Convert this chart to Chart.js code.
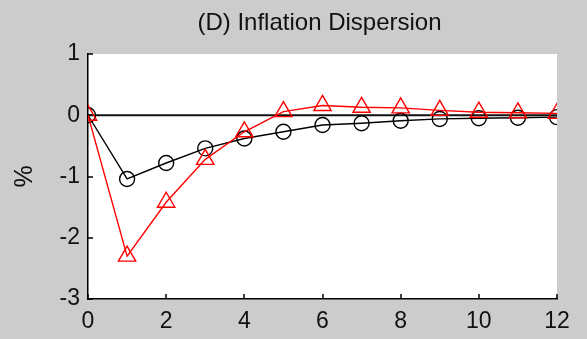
<!DOCTYPE html>
<html>
<head>
<meta charset="utf-8">
<script src="https://cdn.jsdelivr.net/npm/chart.js@4/dist/chart.umd.min.js"></script>
<style>
  html, body { margin: 0; padding: 0; background: #cccccc; }
  #wrap { width: 587px; height: 339px; }
</style>
</head>
<body>
<div id="wrap"><canvas id="c" width="587" height="339"></canvas></div>
<script>
// Impulse responses of inflation dispersion, in percent, by period
const horizon     = [0, 1, 2, 3, 4, 5, 6, 7, 8, 9, 10, 11, 12];
const blackSeries = [0, -1.04, -0.78, -0.54, -0.38, -0.27, -0.16, -0.13, -0.09, -0.06, -0.05, -0.04, -0.03];
const redSeries   = [0, -2.30, -1.42, -0.72, -0.27, 0.06, 0.16, 0.13, 0.12, 0.08, 0.05, 0.04, 0.03];
const zeroLine    = [0, 0];
const zeroLineX   = [0, 12];
const xTicks      = [0, 2, 4, 6, 8, 10, 12];
const yTicks      = [-3, -2, -1, 0, 1];
const titleText   = '(D) Inflation Dispersion';
const yTitleText  = '%';

const FONT = '"Liberation Sans", Arial, sans-serif';

const toPoints = (xs, ys) => xs.map((x, i) => ({ x, y: ys[i] }));

// Grey figure, white axes box, title and inward tick marks
const framePlugin = {
  id: 'frame',
  beforeDraw(chart) {
    const { ctx, chartArea: a } = chart;
    ctx.save();
    ctx.fillStyle = '#cccccc';
    ctx.fillRect(0, 0, chart.width, chart.height);
    ctx.fillStyle = '#ffffff';
    ctx.fillRect(a.left, a.top, a.right - a.left, a.bottom - a.top);
    ctx.fillStyle = '#111111';
    ctx.font = '24px ' + FONT;
    ctx.textAlign = 'center';
    ctx.textBaseline = 'middle';
    ctx.fillText(titleText, (a.left + a.right) / 2 - 3, 23);
    ctx.restore();
  },
  beforeDatasetsDraw(chart) {
    const { ctx, chartArea: a, scales } = chart;
    ctx.save();
    ctx.strokeStyle = '#000000';
    ctx.lineWidth = 1.5;
    ctx.beginPath();
    xTicks.forEach(v => {
      const px = Math.round(scales.x.getPixelForValue(v));
      ctx.moveTo(px, a.bottom);
      ctx.lineTo(px, a.bottom - 5);
    });
    yTicks.forEach(v => {
      const py = Math.round(scales.y.getPixelForValue(v));
      ctx.moveTo(a.left, py);
      ctx.lineTo(a.left + 5, py);
    });
    ctx.stroke();
    ctx.restore();
  }
};

new Chart(document.getElementById('c'), {
  type: 'line',
  data: {
    datasets: [
      {
        data: toPoints(zeroLineX, zeroLine),
        borderColor: '#111111',
        borderWidth: 2,
        pointRadius: 0,
        order: 3
      },
      {
        data: toPoints(horizon, blackSeries),
        borderColor: '#000000',
        borderWidth: 1.4,
        pointStyle: 'circle',
        pointRadius: 7.5,
        pointBorderWidth: 1.4,
        pointBorderColor: '#000000',
        pointBackgroundColor: 'rgba(0,0,0,0)',
        order: 2
      },
      {
        data: toPoints(horizon, redSeries),
        borderColor: '#ff0000',
        borderWidth: 1.4,
        pointStyle: 'triangle',
        pointRadius: 10,
        pointBorderWidth: 1.4,
        pointBorderColor: '#ff0000',
        pointBackgroundColor: 'rgba(0,0,0,0)',
        order: 1
      }
    ]
  },
  options: {
    responsive: false,
    animation: false,
    devicePixelRatio: 1,
    layout: { padding: { left: 0, right: 30, top: 54, bottom: 0 } },
    plugins: {
      legend: { display: false },
      tooltip: { enabled: false },
      title: { display: false }
    },
    elements: { line: { tension: 0 } },
    scales: {
      x: {
        type: 'linear',
        min: 0,
        max: 12,
        afterFit(scale) { scale.height = 40; },
        afterBuildTicks(scale) { scale.ticks = xTicks.map(v => ({ value: v })); },
        grid: { display: false, drawTicks: false },
        border: { display: true, color: '#000000', width: 1.5 },
        ticks: {
          color: '#111111',
          padding: 9,
          maxRotation: 0,
          font: { family: FONT, size: 23 }
        }
      },
      y: {
        min: -3,
        max: 1,
        afterFit(scale) { scale.width = 88; },
        afterBuildTicks(scale) { scale.ticks = yTicks.map(v => ({ value: v })); },
        grid: { display: false, drawTicks: false },
        border: { display: true, color: '#000000', width: 1.5 },
        title: {
          display: true,
          text: yTitleText,
          color: '#111111',
          font: { family: FONT, size: 25 },
          padding: { top: 10, bottom: 0 }
        },
        ticks: {
          color: '#111111',
          padding: 8,
          font: { family: FONT, size: 23 }
        }
      }
    }
  },
  plugins: [framePlugin]
});
</script>
</body>
</html>
